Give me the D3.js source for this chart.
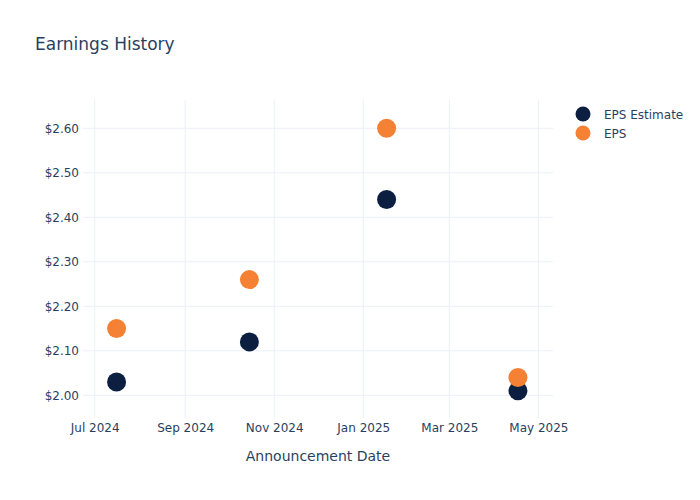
<!DOCTYPE html>
<html>
<head>
<meta charset="utf-8">
<title>Earnings History</title>
<script src="https://cdnjs.cloudflare.com/ajax/libs/d3/7.8.5/d3.min.js"></script>
<style>
  html, body { margin: 0; background: #fff; }
  text { font-family: "DejaVu Sans", verdana, arial, sans-serif; fill: #2a3f5f; }
  .grid line { stroke: #ebf0f8; stroke-width: 1; }
</style>
</head>
<body>
<div id="chart"></div>
<script>
// announcement dates and eps values
var dates = ["2024-07-16", "2024-10-15", "2025-01-17", "2025-04-17"];
var epsEstimate = [2.03, 2.12, 2.44, 2.01];
var epsActual = [2.15, 2.26, 2.60, 2.04];
var xTicks = ["2024-07-01", "2024-09-01", "2024-11-01", "2025-01-01", "2025-03-01", "2025-05-01"];
var yTicks = [2.0, 2.1, 2.2, 2.3, 2.4, 2.5, 2.6];
var seriesNames = ["EPS Estimate", "EPS"];
var seriesColors = ["#0c1f40", "#f58134"];

var W = 700, H = 500;
var m = {left: 83, right: 147, top: 100, bottom: 82};

var parse = d3.utcParse("%Y-%m-%d");

var svg = d3.select("#chart").append("svg")
  .attr("width", W).attr("height", H);

var x = d3.scaleUtc()
  .domain([parse("2024-06-23"), parse("2025-05-11")])
  .range([m.left, W - m.right]);

var y = d3.scaleLinear()
  .domain([1.949, 2.6636])
  .range([H - m.bottom, m.top]);

// grid
var grid = svg.append("g").attr("class", "grid");
grid.selectAll(".vx").data(xTicks).enter().append("line")
  .attr("x1", function(d){ return x(parse(d)); })
  .attr("x2", function(d){ return x(parse(d)); })
  .attr("y1", m.top).attr("y2", H - m.bottom);
grid.selectAll(".hy").data(yTicks).enter().append("line")
  .attr("x1", m.left).attr("x2", W - m.right)
  .attr("y1", function(d){ return y(d); })
  .attr("y2", function(d){ return y(d); });

// axes, plotly look: no domain line, no tick marks
var xAxis = svg.append("g")
  .attr("transform", "translate(0," + (H - m.bottom) + ")")
  .call(d3.axisBottom(x)
    .tickValues(xTicks.map(parse))
    .tickFormat(d3.utcFormat("%b %Y"))
    .tickSize(0).tickPadding(5));
xAxis.select(".domain").remove();

var yAxis = svg.append("g")
  .attr("transform", "translate(" + (m.left - 4) + ",0)")
  .call(d3.axisLeft(y)
    .tickValues(yTicks)
    .tickFormat(function(d){ return "$" + d3.format(".2f")(d); })
    .tickSize(0).tickPadding(0));
yAxis.select(".domain").remove();

svg.selectAll(".tick text")
  .attr("fill", "#2a3f5f")
  .attr("font-size", 12)
  .style("font-family", "'DejaVu Sans', verdana, arial, sans-serif");

// points
var series = [epsEstimate, epsActual];
series.forEach(function(vals, i) {
  svg.append("g").selectAll("circle")
    .data(vals).enter().append("circle")
    .attr("cx", function(d, j){ return x(parse(dates[j])); })
    .attr("cy", function(d){ return y(d); })
    .attr("r", 9.5)
    .attr("fill", seriesColors[i]);
});

// title
svg.append("text").attr("x", 35).attr("y", 50)
  .attr("font-size", 17).text("Earnings History");

// x axis title
svg.append("text")
  .attr("x", (m.left + W - m.right) / 2).attr("y", 461)
  .attr("text-anchor", "middle").attr("font-size", 14)
  .text("Announcement Date");

// legend
var leg = svg.append("g").attr("transform", "translate(583,114)");
seriesNames.forEach(function(name, i) {
  var row = leg.append("g").attr("transform", "translate(0," + (i * 19) + ")");
  row.append("circle").attr("r", 7.5).attr("fill", seriesColors[i]);
  row.append("text").attr("x", 21).attr("y", 4.5)
    .attr("font-size", 12).text(name);
});
</script>
</body>
</html>
